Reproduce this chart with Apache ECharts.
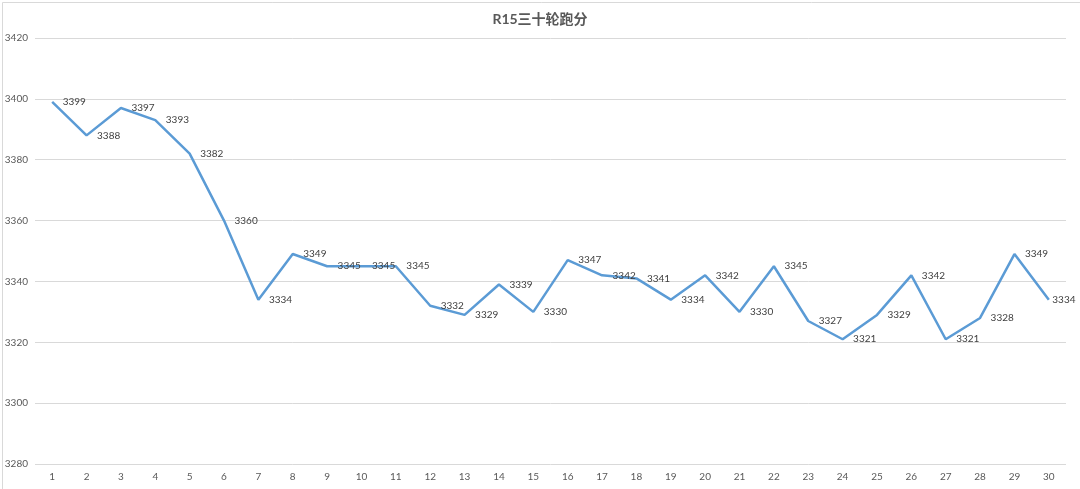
<!DOCTYPE html>
<html><head><meta charset="utf-8">
<script src="https://cdn.jsdelivr.net/npm/echarts@6/dist/echarts.min.js"></script>
<style>html,body{margin:0;padding:0;background:#fff}#c{width:1080px;height:489px}</style>
</head><body><div id="c"></div>
<script>
const titleText = 'R15三十轮跑分';
const categories = ['1','2','3','4','5','6','7','8','9','10','11','12','13','14','15','16','17','18','19','20','21','22','23','24','25','26','27','28','29','30'];
const scores = [3399,3388,3397,3393,3382,3360,3334,3349,3345,3345,3345,3332,3329,3339,3330,3347,3342,3341,3334,3342,3330,3345,3327,3321,3329,3342,3321,3328,3349,3334];
const yMin = 3280, yMax = 3420, yStep = 20;

const chart = echarts.init(document.getElementById('c'));
const font = 'Lato, "Noto Sans CJK SC", sans-serif';
const seriesData = scores.map((v, i) => i === scores.length - 1
  ? {value: v, label: {distance: 3}}
  : v);
chart.setOption({
  backgroundColor: '#fff',
  animation: false,
  title: {
    text: titleText, left: 'center', top: 7,
    textStyle: {fontFamily: font, fontSize: 14, fontWeight: 'bold', color: '#595959'}
  },
  graphic: [{type:'rect', left:0, top:0, shape:{width:1079, height:488}, style:{fill:'none', stroke:'#d9d9d9', lineWidth:1}}],
  grid: {left: 35, right: 14, top: 38, bottom: 25},
  xAxis: {
    type: 'category', data: categories, boundaryGap: true,
    axisLine: {show: false}, axisTick: {show: false},
    axisLabel: {color: '#595959', fontSize: 10, fontFamily: font, margin: 8}
  },
  yAxis: {
    type: 'value', min: yMin, max: yMax, interval: yStep,
    axisLine: {show: false}, axisTick: {show: false},
    axisLabel: {color: '#595959', fontSize: 10, fontFamily: font, margin: 7, formatter: v => String(v)},
    splitLine: {lineStyle: {color: '#d9d9d9', width: 1}}
  },
  series: [{
    type: 'line', data: seriesData, symbol: 'circle', symbolSize: 1, showSymbol: true,
    itemStyle: {color: 'rgba(91,155,213,0)', borderWidth: 0},
    lineStyle: {color: '#5B9BD5', width: 2.5},
    labelLayout: {hideOverlap: false},
    label: {show: true, position: 'right', distance: 10, offset: [0, 2], opacity: 1,
      color: '#404040', fontSize: 10, fontFamily: font}
  }]
});
</script></body></html>
